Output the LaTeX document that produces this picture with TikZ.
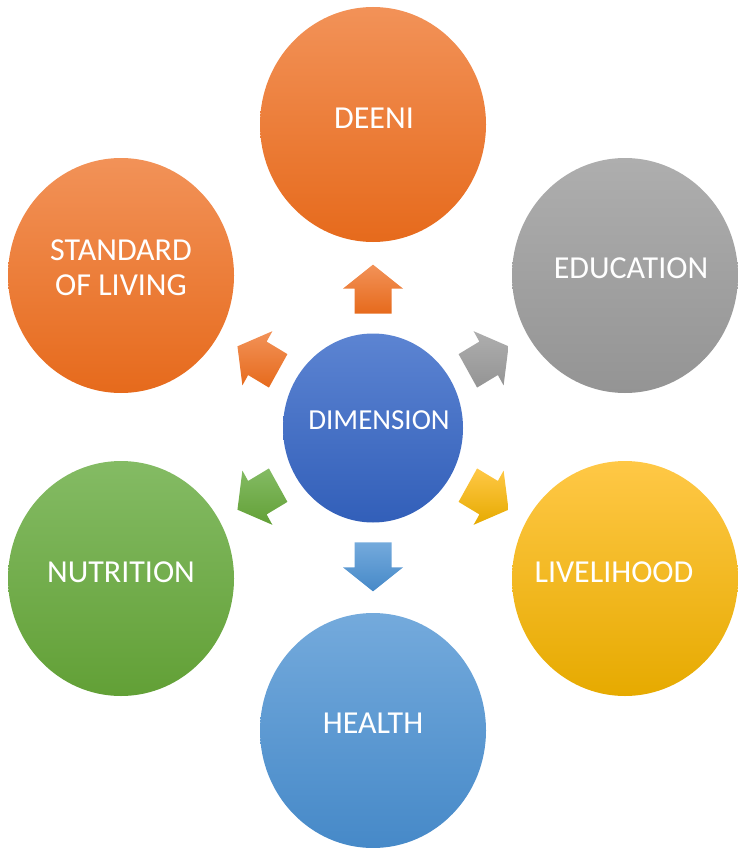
\documentclass[tikz,border=0pt]{standalone}
\usepackage{fontspec}
\setmainfont{Carlito}
\usetikzlibrary{shapes.geometric}

\definecolor{orTop}{RGB}{242,146,88}
\definecolor{orBot}{RGB}{230,106,28}
\definecolor{grTop}{RGB}{174,174,174}
\definecolor{grBot}{RGB}{148,148,148}
\definecolor{yeTop}{RGB}{255,200,70}
\definecolor{yeBot}{RGB}{230,170,0}
\definecolor{gnTop}{RGB}{132,187,100}
\definecolor{gnBot}{RGB}{98,160,54}
\definecolor{lbTop}{RGB}{116,170,220}
\definecolor{lbBot}{RGB}{70,137,200}
\definecolor{dbTop}{RGB}{92,132,210}
\definecolor{dbBot}{RGB}{50,95,185}

% block arrow pointing away from the hub at angle #1, shaded #2 (top) -> #3 (bottom)
\newcommand\hubarrow[3]{%
  \begin{scope}[shift={(373,428)}, yscale=1.044, rotate=#1]
    \path[top color=#2, bottom color=#3]
      (109.5,-18.5) -- (133.5,-18.5) -- (133.5,-30) -- (156.5,0)
      -- (133.5,30) -- (133.5,18.5) -- (109.5,18.5) -- cycle;
  \end{scope}}

\begin{document}
\begin{tikzpicture}[x=1pt, y=-1pt,
  disc/.style={ellipse, inner sep=0pt, draw=none,
    minimum width=226pt, minimum height=235pt},
  hub/.style={ellipse, inner sep=0pt, draw=none,
    minimum width=180pt, minimum height=189pt},
  caption/.style={text=white, font=\fontsize{32}{35}\selectfont,
    align=center, inner sep=0pt},
  hubcaption/.style={caption, font=\fontsize{29}{35}\selectfont}]
\useasboundingbox (0,0) rectangle (737,848);

% outer discs
\node[disc, top color=orTop, bottom color=orBot] (deeni) at (373,124.5) {};
\node[disc, top color=grTop, bottom color=grBot] (education) at (625,275.5) {};
\node[disc, top color=yeTop, bottom color=yeBot] (livelihood) at (625,578.5) {};
\node[disc, top color=lbTop, bottom color=lbBot] (health) at (373,730.5) {};
\node[disc, top color=gnTop, bottom color=gnBot] (nutrition) at (121,578.5) {};
\node[disc, top color=orTop, bottom color=orBot] (standard) at (121,275.5) {};

% central disc
\node[hub, top color=dbTop, bottom color=dbBot] (dimension) at (373,428) {};

% arrows from the hub
\hubarrow{90}{orTop}{orBot}
\hubarrow{30}{grTop}{grBot}
\hubarrow{-30}{yeTop}{yeBot}
\hubarrow{-90}{lbTop}{lbBot}
\hubarrow{-150}{gnTop}{gnBot}
\hubarrow{150}{orTop}{orBot}

% captions
\node[caption] (tDeeni) at (374,118) {DEENI};
\node[caption] (tEducation) at (631,268) {EDUCATION};
\node[caption] (tLivelihood) at (614,572) {LIVELIHOOD};
\node[caption] (tHealth) at (373,723) {HEALTH};
\node[caption] (tNutrition) at (121,572) {NUTRITION};
\node[caption] (tStandard) at (121,268) {STANDARD\\OF LIVING};
\node[hubcaption] (tDimension) at (379,420) {DIMENSION};
\end{tikzpicture}
\end{document}
